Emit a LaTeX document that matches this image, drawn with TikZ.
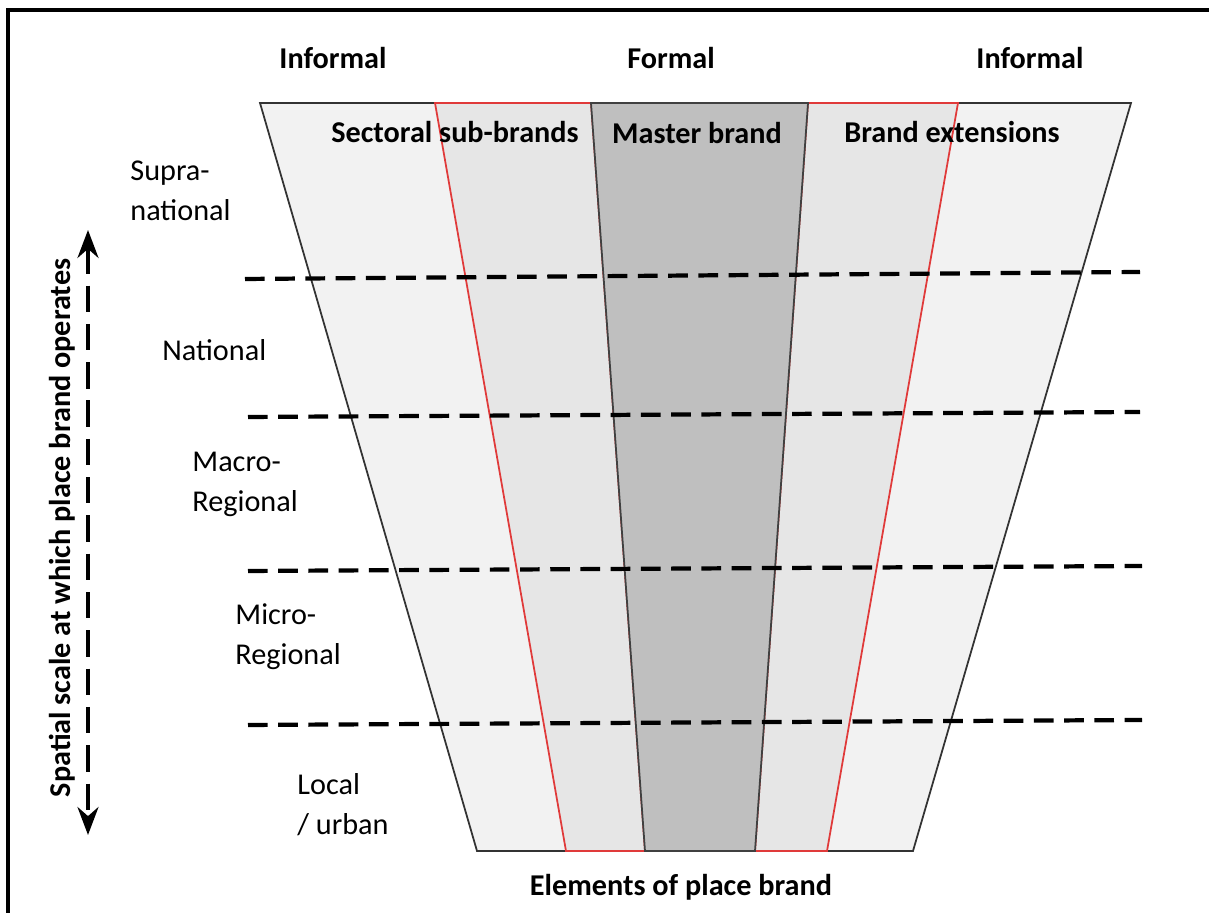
\documentclass[tikz,border=0pt]{standalone}
\usepackage{fontspec}
\setmainfont{Carlito}
\usetikzlibrary{arrows.meta, positioning}

\definecolor{outergray}{HTML}{F2F2F2}
\definecolor{bandgray}{HTML}{E6E6E6}
\definecolor{mastergray}{HTML}{BFBFBF}
\definecolor{bandred}{HTML}{E03A3A}

\tikzset{
  head/.style={font=\fontsize{8.6}{11.4}\selectfont\bfseries},
  scalelabel/.style={font=\fontsize{8.6}{11.4}\selectfont, align=left, anchor=west},
  levelline/.style={line width=1.2pt, dash pattern=on 5.6pt off 3pt},
}

\begin{document}
\begin{tikzpicture}[>=Stealth]
  \useasboundingbox (0,0) rectangle (12.09,9.13);

  % Frame (cut off at right and bottom)
  \draw[line width=0.9pt] (0.08,-0.5) -- (0.08,9.03) -- (12.6,9.03);

  % Outer trapezoid (informal)
  \filldraw[fill=outergray, draw=black!80, line width=0.5pt]
    (2.60,8.10) -- (11.31,8.10) -- (9.13,0.62) -- (4.77,0.62) -- cycle;

  % Sectoral sub-brands and brand extensions
  \filldraw[fill=bandgray, draw=bandred, line width=0.5pt]
    (4.35,8.10) -- (5.91,8.10) -- (6.45,0.62) -- (5.66,0.62) -- cycle;
  \filldraw[fill=bandgray, draw=bandred, line width=0.5pt]
    (8.08,8.10) -- (9.58,8.10) -- (8.27,0.62) -- (7.55,0.62) -- cycle;

  % Master brand
  \filldraw[fill=mastergray, draw=black!75, line width=0.5pt]
    (5.91,8.10) -- (8.08,8.10) -- (7.55,0.62) -- (6.45,0.62) -- cycle;

  % Scale boundaries
  \draw[levelline] (2.45,6.34) -- (11.40,6.41);
  \draw[levelline] (2.48,4.96) -- (11.40,5.01);
  \draw[levelline] (2.48,3.42) -- (11.42,3.47);
  \draw[levelline] (2.48,1.88) -- (11.42,1.93);

  % Column heads
  \node[head] (infl) at (3.33,8.55) {Informal};
  \node[head] (form) at (6.71,8.55) {Formal};
  \node[head] (infr) at (10.30,8.55) {Informal};
  \node[head] (sect) at (4.55,7.81) {Sectoral sub-brands};
  \node[head] (mast) at (6.97,7.80) {Master brand};
  \node[head] (ext) at (9.52,7.81) {Brand extensions};
  \node[head] (elem) at (6.81,0.26) {Elements of place brand};

  % Spatial scales
  \node[scalelabel] (supra) at (1.18,7.22) {Supra-\\national};
  \node[scalelabel] (natl) at (1.50,5.63) {National};
  \node[scalelabel] (macro) at (1.80,4.29) {Macro-\\Regional};
  \node[scalelabel] (micro) at (2.23,2.76) {Micro-\\Regional};
  \node[scalelabel] (local) at (2.85,1.08) {Local\\/ urban};

  % Scale axis
  \coordinate (axtop) at (0.88,6.83);
  \coordinate (axbot) at (0.88,0.78);
  \draw[<->, line width=1.1pt, dash pattern=on 7.5pt off 3.4pt] (axtop) -- (axbot);
  \node[head, rotate=90] (axis) at (0.62,3.85) {Spatial scale at which place brand operates};
\end{tikzpicture}
\end{document}
